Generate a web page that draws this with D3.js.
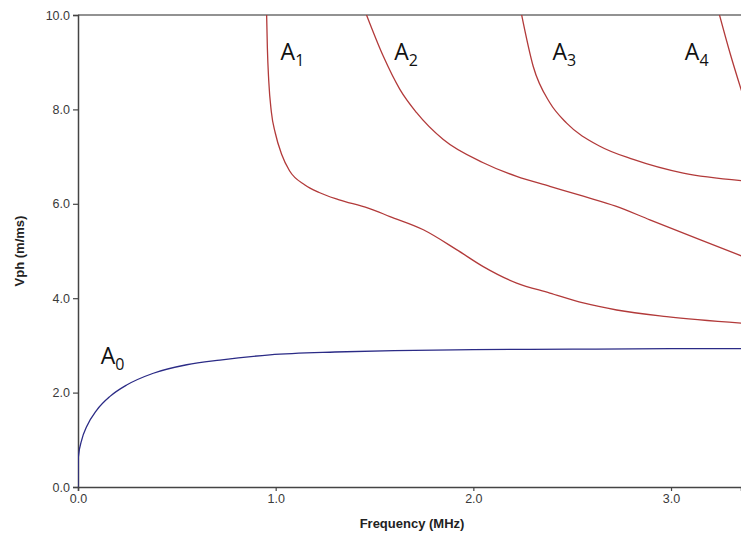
<!DOCTYPE html>
<html>
<head>
<meta charset="utf-8">
<script src="https://cdn.jsdelivr.net/npm/d3@7"></script>
<style>
  html, body { margin: 0; padding: 0; background: #fff; }
  svg { display: block; }
</style>
</head>
<body>
<svg id="chart" width="741" height="537"></svg>
<script>
// Phase velocity dispersion curves, antisymmetric Lamb modes A0..A4
const xTicks = [0, 1, 2, 3];
const yTicks = [0, 2, 4, 6, 8, 10];

// [frequency MHz, phase velocity m/ms]
const modeA0 = [[0,0],[0.002,0.64],[0.019,1.0],[0.044,1.28],[0.095,1.63],[0.162,1.92],[0.246,2.16],[0.381,2.41],[0.55,2.59],[0.718,2.69],[0.971,2.80],[1.3,2.86],[1.6,2.89],[2.0,2.91],[2.5,2.92],[3.0,2.93],[3.36,2.93]];
const modeA1 = [[0.954,10.05],[0.958,9.3],[0.965,8.6],[0.978,7.95],[0.998,7.5],[1.03,7.05],[1.07,6.70],[1.148,6.40],[1.22,6.24],[1.317,6.09],[1.468,5.91],[1.578,5.73],[1.747,5.45],[1.915,5.03],[2.05,4.67],[2.219,4.32],[2.387,4.11],[2.556,3.90],[2.725,3.75],[2.978,3.61],[3.36,3.47]];
const modeA2 = [[1.455,10.05],[1.544,9.13],[1.629,8.42],[1.713,7.93],[1.848,7.36],[2.05,6.87],[2.219,6.58],[2.387,6.37],[2.556,6.16],[2.72,5.95],[2.893,5.66],[3.146,5.24],[3.36,4.89]];
const modeA3 = [[2.242,10.05],[2.303,8.91],[2.387,8.14],[2.472,7.71],[2.64,7.22],[2.809,6.94],[3.062,6.65],[3.36,6.49]];
const modeA4 = [[3.242,10.05],[3.298,9.2],[3.36,8.35]];

const modes = [
  { name: "A", sub: "0", pts: modeA0, color: "#2b2b86", lx: 0.115, ly: 2.6 },
  { name: "A", sub: "1", pts: modeA1, color: "#b23a3a", lx: 1.025, ly: 9.05 },
  { name: "A", sub: "2", pts: modeA2, color: "#b23a3a", lx: 1.6, ly: 9.05 },
  { name: "A", sub: "3", pts: modeA3, color: "#b23a3a", lx: 2.4, ly: 9.05 },
  { name: "A", sub: "4", pts: modeA4, color: "#b23a3a", lx: 3.07, ly: 9.05 }
];

const svg = d3.select("#chart");
const margin = { left: 78, top: 15, right: 0, bottom: 50 };
const W = 741, H = 537;

const x = d3.scaleLinear().domain([0, 3.354]).range([margin.left, W - margin.right]);
const y = d3.scaleLinear().domain([0, 10]).range([H - margin.bottom, margin.top]);

svg.append("defs").append("clipPath").attr("id", "plot")
  .append("rect")
  .attr("x", margin.left).attr("y", margin.top)
  .attr("width", W - margin.left).attr("height", y(0) - margin.top);

// top frame line
svg.append("line")
  .attr("x1", margin.left).attr("x2", W)
  .attr("y1", y(10)).attr("y2", y(10))
  .attr("stroke", "#6e6e6e").attr("stroke-width", 1.6);

const fmt = d3.format(".1f");

const gx = svg.append("g")
  .attr("transform", `translate(0,${y(0)})`)
  .call(d3.axisBottom(x).tickValues(xTicks).tickFormat(fmt).tickSizeOuter(0).tickSize(4).tickPadding(3));
const gy = svg.append("g")
  .attr("transform", `translate(${margin.left},0)`)
  .call(d3.axisLeft(y).tickValues(yTicks).tickFormat(fmt).tickSizeOuter(0).tickSize(5).tickPadding(3));

[gx, gy].forEach(g => {
  g.select(".domain").attr("stroke", "#444").attr("stroke-width", 1.5);
  g.selectAll(".tick line").attr("stroke", "#444").attr("stroke-width", 1.2);
  g.selectAll(".tick text")
    .attr("fill", "#3a3a3a")
    .style("font-family", "Liberation Sans, Arial, sans-serif")
    .style("font-size", "12.5px");
});

const line = d3.line()
  .x(d => x(d[0])).y(d => y(d[1]))
  .curve(d3.curveMonotoneX);

const curves = svg.append("g").attr("clip-path", "url(#plot)");
modes.forEach(m => {
  curves.append("path")
    .datum(m.pts)
    .attr("d", line)
    .attr("fill", "none")
    .attr("stroke", m.color)
    .attr("stroke-width", 1.3);
});

// mode labels
modes.forEach(m => {
  const t = svg.append("text")
    .attr("x", x(m.lx)).attr("y", y(m.ly))
    .attr("fill", "#111")
    .style("font-family", "Open Sans, Liberation Sans, sans-serif")
    .style("font-size", "23px");
  t.append("tspan").text(m.name);
  t.append("tspan").text(m.sub)
    .attr("dy", 6)
    .style("font-size", "16px");
});

// axis titles
svg.append("text")
  .attr("x", 412).attr("y", 528)
  .attr("text-anchor", "middle")
  .attr("fill", "#222")
  .style("font-family", "Liberation Sans, Arial, sans-serif")
  .style("font-size", "13px").style("font-weight", "bold")
  .text("Frequency (MHz)");

svg.append("text")
  .attr("transform", `translate(24,${y(5.0)}) rotate(-90)`)
  .attr("text-anchor", "middle")
  .attr("fill", "#222")
  .style("font-family", "Liberation Sans, Arial, sans-serif")
  .style("font-size", "13px").style("font-weight", "bold")
  .text("Vph (m/ms)");
</script>
</body>
</html>
